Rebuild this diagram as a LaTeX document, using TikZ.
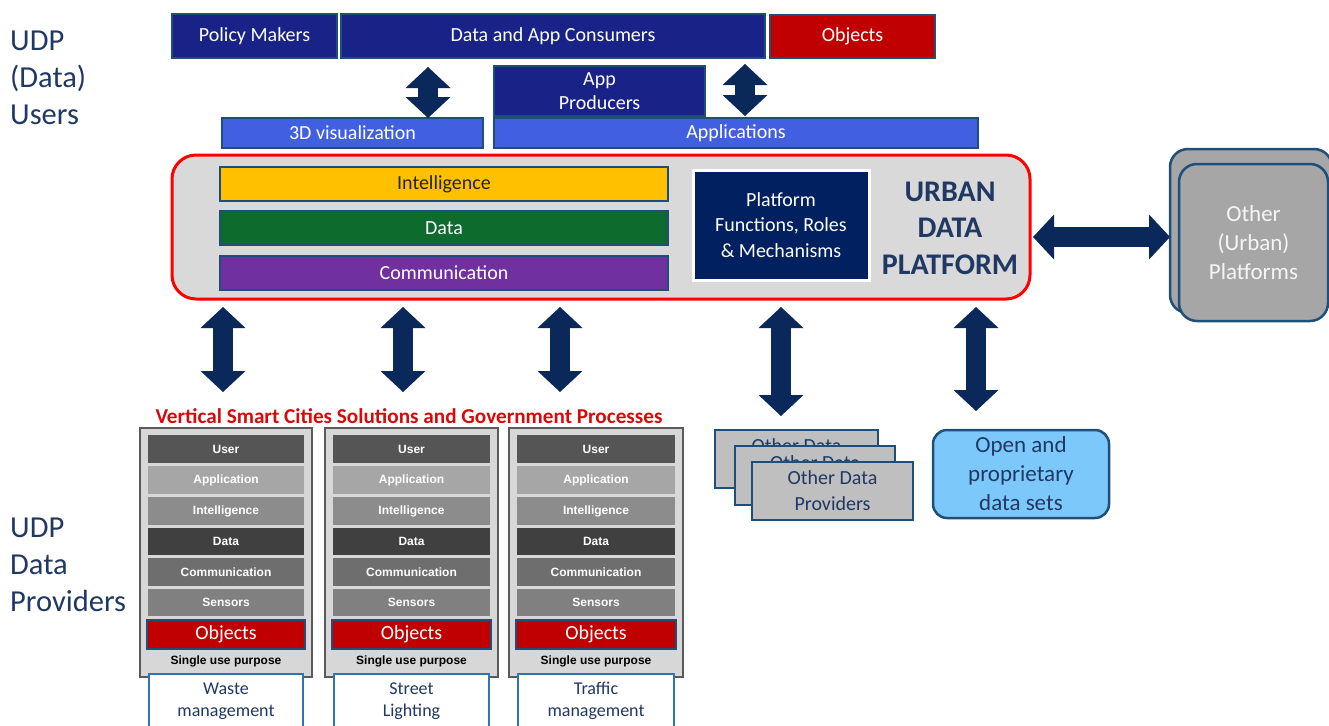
\documentclass[tikz,border=0pt]{standalone}
\usepackage{fontspec}
\setmainfont{Carlito}
\newfontfamily\arialf{Liberation Sans}
\usetikzlibrary{arrows.meta}
\definecolor{navytxt}{RGB}{31,56,100}
\definecolor{topblue}{RGB}{24,34,135}
\definecolor{appblue}{RGB}{65,95,225}
\definecolor{bordblue}{RGB}{31,78,121}
\definecolor{arrowc}{RGB}{10,40,90}
\definecolor{pfnavy}{RGB}{0,32,96}
\definecolor{objred}{RGB}{192,0,0}
\definecolor{intyellow}{RGB}{255,192,0}
\definecolor{datgreen}{RGB}{14,107,46}
\definecolor{compurple}{RGB}{112,48,160}
\definecolor{platgray}{RGB}{217,217,217}
\definecolor{otherpl}{RGB}{166,166,166}
\definecolor{odpgray}{RGB}{191,191,191}
\definecolor{openblue}{RGB}{125,200,250}
\definecolor{titlered}{RGB}{215,10,10}
\definecolor{colgray}{RGB}{215,215,215}
\definecolor{colbord}{RGB}{90,90,90}
\definecolor{lyU}{RGB}{85,85,85}
\definecolor{lyA}{RGB}{166,166,166}
\definecolor{lyI}{RGB}{140,140,140}
\definecolor{lyD}{RGB}{64,64,64}
\definecolor{lyC}{RGB}{110,110,110}
\definecolor{lyS}{RGB}{128,128,128}
\definecolor{botbord}{RGB}{46,117,182}
\newcommand\bx[7]{\node[#6,minimum width={((#4)-(#2))*1pt},minimum height={((#5)-(#3))*1pt}] (#1) at ({((#2)+(#4))/2},{((#3)+(#5))/2}) {#7};}
\tikzset{
  base/.style={inner sep=0pt, outer sep=0pt, align=center, font=\fontsize{20}{24}\selectfont},
  tb/.style={base, draw=bordblue, line width=1.2pt, fill=topblue, text=white},
  ab/.style={base, draw=bordblue, line width=1.2pt, fill=appblue, text=white},
  redb/.style={base, draw=bordblue, line width=1.2pt, fill=objred, text=white},
  band/.style={base, draw=bordblue, line width=1.2pt, text=white},
  opl/.style={base, fill=otherpl, draw=bordblue, line width=2.5pt, rounded corners=18pt},
  odps/.style={base, fill=odpgray, draw=bordblue, line width=2pt, text=navytxt, font=\fontsize{20}{26}\selectfont},
  colst/.style={base, fill=colgray, draw=colbord, line width=1.5pt},
  lay/.style={base, text=white, font=\arialf\bfseries\fontsize{12}{14}\selectfont},
  objl/.style={base, fill=objred, draw=bordblue, line width=2.5pt, text=white},
  botb/.style={base, fill=white, draw=botbord, line width=1.5pt, text=navytxt, font=\fontsize{18}{22}\selectfont},
  dbl/.style={draw=arrowc, line width=20pt,
    {Triangle[length=21pt,width=45pt,line width=0pt]}-{Triangle[length=21pt,width=45pt,line width=0pt]}},
  sidelab/.style={anchor=west, align=left, inner sep=0pt, text=navytxt, font=\fontsize{30.5}{37}\selectfont}
}
\begin{document}
\begin{tikzpicture}[x=1pt,y=-1pt]
\useasboundingbox (0,0) rectangle (1329,725);
% side labels
\node[sidelab] (udpu) at (10,78) {UDP\\(Data)\\Users};
\node[sidelab] (udpp) at (10,565) {UDP\\Data\\Providers};
% top row
\bx{pm}{172}{14}{337}{58}{tb}{Policy Makers}
\bx{cons}{341}{14}{765}{58}{tb}{Data and App Consumers}
\bx{obj}{770}{15}{935}{58}{redb}{Objects}
\bx{apr}{494}{66}{705}{116}{tb}{App\\Producers}
\bx{viz}{222}{118}{483}{148}{ab}{3D visualization}
\bx{apps}{494}{118}{978}{148}{ab}{Applications}
% platform
\bx{plat}{172}{155}{1030}{299}{base, draw=red, line width=3pt, fill=platgray, rounded corners=24pt}{}
\bx{int}{220}{167}{668}{201}{band, fill=intyellow, text=black!85}{Intelligence}
\bx{dat}{220}{211}{668}{245}{band, fill=datgreen}{Data}
\bx{com}{220}{256}{668}{290}{band, fill=compurple}{Communication}
\bx{pf}{693}{170}{869}{280}{base, fill=pfnavy, draw=white, line width=3pt, text=white, font=\fontsize{20}{25.5}\selectfont}{Platform\\Functions, Roles\\\& Mechanisms}
\node[base, text=navytxt, font=\bfseries\fontsize{30}{36.5}\selectfont] (udpt) at (950,228) {URBAN\\DATA\\PLATFORM};
% other platforms
\bx{opb}{1170}{149}{1332}{313}{opl}{}
\bx{opf}{1179}{164}{1328}{321}{opl, text=white!92!gray, font=\fontsize{23}{29}\selectfont}{Other\\(Urban)\\Platforms}
% top arrows
\draw[dbl] ([xshift=-125pt,yshift=-9pt]cons.south) -- ([xshift=75.5pt]viz.north);
\draw[dbl] ([xshift=192pt,yshift=-6pt]cons.south) -- ([xshift=9pt,yshift=2pt]apps.north);
% horizontal arrow
\draw[dbl] ([xshift=3pt,yshift=-10pt]plat.east) -- ([yshift=-6pt]opb.west);
% title
\node[base, text=titlered, font=\bfseries\fontsize{21.2}{24}\selectfont] (vt) at (409,416) {Vertical Smart Cities Solutions and Government Processes};
% columns
\foreach \i/\xa/\xb/\bxa/\bxb/\lab in {1/140/312/149/303/{Waste\\management}, 2/325/498/334/489/{Street\\Lighting}, 3/509/683/518/674/{Traffic\\management}}{
  \bx{col\i}{\xa}{428}{\xb}{677}{colst}{}
  \foreach \nm/\ya/\yb/\cc in {User/435/463/lyU, Application/466/494/lyA, Intelligence/497/525/lyI, Data/528/555/lyD, Communication/558/586/lyC, Sensors/589/616/lyS}{
    \bx{l\i\nm}{\xa+8}{\ya}{\xb-8}{\yb}{lay, fill=\cc}{\nm}
  }
  \bx{ob\i}{\xa+7}{620}{\xb-7}{649}{objl}{Objects}
  \node[base, font=\arialf\bfseries\fontsize{12}{14}\selectfont, text=black] (su\i) at ({(\xa+\xb)/2},661) {Single use purpose};
  \bx{bb\i}{\bxa}{674}{\bxb}{728}{botb}{\lab}
}
% data providers
\bx{odp1}{715}{430}{878}{488}{odps}{Other Data\\Providers}
\bx{odp2}{735}{446}{895}{505}{odps}{Other Data\\Providers}
\bx{odp3}{752}{462}{913}{520}{odps}{Other Data\\Providers}
\bx{open}{933}{430}{1109}{518}{base, fill=openblue, draw=bordblue, line width=2.5pt, rounded corners=14pt, text=navytxt, font=\fontsize{23}{29}\selectfont}{Open and\\proprietary\\data sets}
% bottom arrows
\coordinate (e1) at (223,392);
\coordinate (e2) at (403,392);
\coordinate (e3) at (560,392);
\draw[dbl] ([xshift=-378pt,yshift=-8pt]plat.south) -- (e1);
\draw[dbl] ([xshift=-198pt,yshift=-8pt]plat.south) -- (e2);
\draw[dbl] ([xshift=-41pt,yshift=-8pt]plat.south) -- (e3);
\draw[dbl] ([xshift=180pt,yshift=-8pt]plat.south) -- ([xshift=-15.5pt,yshift=14pt]odp1.north);
\draw[dbl] ([xshift=375pt,yshift=-8pt]plat.south) -- ([xshift=-45pt,yshift=19pt]open.north);
\end{tikzpicture}
\end{document}
